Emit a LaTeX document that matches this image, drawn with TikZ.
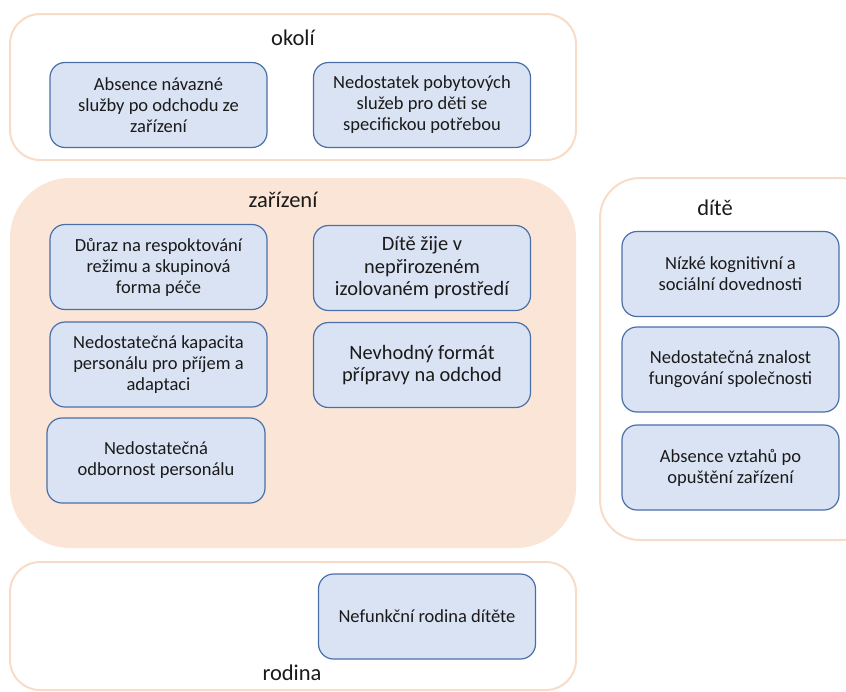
\documentclass[tikz,border=0pt]{standalone}
\usepackage{fontspec}
\setmainfont{Carlito}
\definecolor{peach}{HTML}{FBE5D6}
\definecolor{peachline}{HTML}{F8DCC8}
\definecolor{boxfill}{HTML}{DAE3F3}
\definecolor{boxline}{HTML}{4A6FA8}
\definecolor{txt}{HTML}{1A1A1A}
\begin{document}
\begin{tikzpicture}[x=1pt,y=-1pt,
  frame/.style={draw=peachline,line width=2pt,fill=white},
  zframe/.style={fill=peach,draw=none},
  lbl/.style={font=\fontsize{22.5}{26}\selectfont,text=txt,inner sep=0pt},
  cbox/.style={draw=boxline,line width=1.2pt,fill=boxfill,rounded corners=15pt,
    minimum width=217pt,minimum height=85pt,align=center,text=txt,inner sep=2pt,
    font=\fontsize{18.5}{21}\selectfont},
  bigbox/.style={cbox,font=\fontsize{20.4}{22.5}\selectfont}]
\useasboundingbox (0,0) rectangle (846,691);
\clip (0,0) rectangle (846,691);
% frames
\draw[frame,rounded corners=30pt] (10,14) rectangle (576,160);
\fill[zframe,rounded corners=60pt] (10,178) rectangle (576,548);
\draw[frame,rounded corners=40pt] (600,178) rectangle (880,540);
\draw[frame,rounded corners=30pt] (10,562) rectangle (576,690);
% labels
\node[lbl] (lokoli) at (293,38) {okolí};
\node[lbl] (lzar) at (283,200) {zařízení};
\node[lbl] (ldite) at (715,208) {dítě};
\node[lbl] (lrod) at (292,673) {rodina};
% okolí boxes
\node[cbox] (a1) at (158.5,105) {Absence návazné\\služby po odchodu ze\\zařízení};
\node[cbox] (a2) at (422,105) {Nedostatek pobytových\\služeb pro děti se\\specifickou potřebou};
% zařízení boxes
\node[cbox] (z1) at (158.5,267) {Důraz na respoktování\\režimu a skupinová\\forma péče};
\node[bigbox] (z2) at (422,268) {Dítě žije v\\nepřirozeném\\izolovaném prostředí};
\node[cbox] (z3) at (158.5,364.5) {Nedostatečná kapacita\\personálu pro příjem a\\adaptaci};
\node[bigbox] (z4) at (422,365) {Nevhodný formát\\přípravy na odchod};
\node[cbox,minimum width=218pt] (z5) at (156,460.5) {Nedostatečná\\odbornost personálu};
% dítě boxes
\node[cbox] (d1) at (730.5,274) {Nízké kognitivní a\\sociální dovednosti};
\node[cbox] (d2) at (730.5,369.5) {Nedostatečná znalost\\fungování společnosti};
\node[cbox] (d3) at (730.5,467.5) {Absence vztahů po\\opuštění zařízení};
% rodina box
\node[cbox] (r1) at (427,616.5) {Nefunkční rodina dítěte};
\end{tikzpicture}
\end{document}
